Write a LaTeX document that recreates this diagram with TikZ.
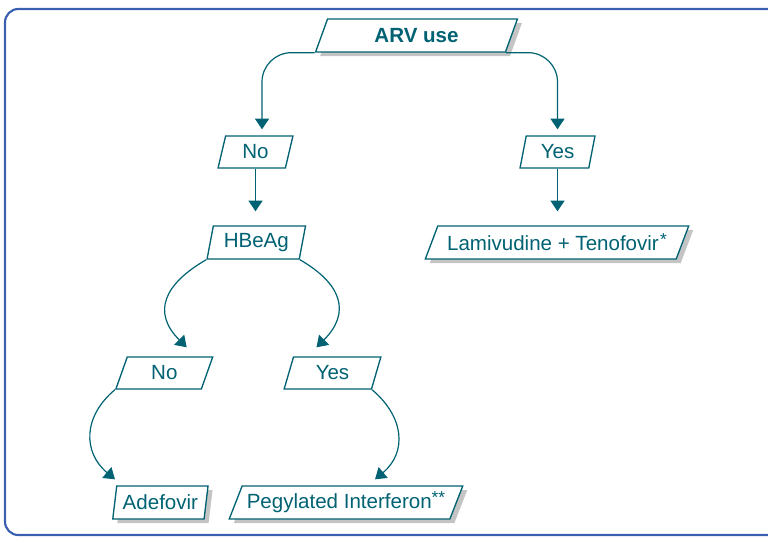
\documentclass[tikz,border=0pt]{standalone}
\usepackage{fontspec}
\setmainfont{Liberation Sans}
\usetikzlibrary{shapes.geometric,arrows.meta,shadows,calc}
\definecolor{teal1}{RGB}{0,98,114}
\definecolor{frameblue}{RGB}{60,96,176}
\definecolor{shadowgray}{RGB}{196,196,196}
\newcommand{\astr}[1]{\raisebox{0.25em}{\fontsize{13}{13}\selectfont #1}}
\begin{document}
\begin{tikzpicture}[x=0.75pt,y=0.75pt,
  pbox/.style={shape=trapezium, trapezium stretches=true, draw=teal1, line width=1pt,
    fill=white, text=teal1, inner sep=0pt, font=\fontsize{15.4}{18}\selectfont},
  shbox/.style={pbox, drop shadow={shadow xshift=3.4pt, shadow yshift=-3pt, fill=shadowgray, opacity=1}},
  conn/.style={draw=teal1, line width=0.9pt, -{Triangle[length=8pt,width=10.5pt]}}]
\useasboundingbox (0,0) rectangle (768,-536);
\draw[frameblue, line width=1.6pt, rounded corners=10] (5,-9) rectangle (790,-535);

\node[shbox, trapezium left angle=68.5, trapezium right angle=111.5, minimum width=152.25pt, minimum height=24.75pt, font=\fontsize{15.4}{18}\selectfont\bfseries] (arv) at (416.5,-35.5) {ARV use};
\node[pbox, trapezium left angle=77, trapezium right angle=103, minimum width=56.25pt, minimum height=24pt] (no1) at (255.5,-152) {No};
\node[pbox, trapezium left angle=77, trapezium right angle=103, minimum width=56.25pt, minimum height=24pt] (yes1) at (557.5,-152) {Yes};
\node[pbox, trapezium left angle=75.6, trapezium right angle=104.4, minimum width=74.25pt, minimum height=24.75pt] (hbeag) at (256.3,-242.5) {HBeAg};
\node[shbox, trapezium left angle=56.3, trapezium right angle=123.7, minimum width=198pt, minimum height=24.75pt] (lam) at (557,-242.5) {Lamivudine + Tenofovir\kern1pt\astr{*}};
\node[pbox, trapezium left angle=74.3, trapezium right angle=105.7, minimum width=72.75pt, minimum height=24pt] (no2) at (164.3,-373) {No};
\node[pbox, trapezium left angle=74.3, trapezium right angle=105.7, minimum width=72.75pt, minimum height=24pt] (yes2) at (332.5,-373) {Yes};
\node[shbox, trapezium left angle=77.2, trapezium right angle=102.8, minimum width=71.6pt, minimum height=24.75pt] (ade) at (160.4,-502.5) {Adefovir};
\node[shbox, trapezium left angle=60, trapezium right angle=120, minimum width=175.5pt, minimum height=24.75pt] (peg) at (346,-502.5) {Pegylated Interferon\astr{**}};

\coordinate (tno1) at ($(no1.north)+(6.5,6)$);
\coordinate (tyes1) at ($(yes1.north)+(0,6)$);
\coordinate (thbe) at ($(no1.south |- hbeag.north)+(0,14)$);
\coordinate (tlam) at ($(yes1.south |- lam.north)+(0,14)$);
\coordinate (tno2) at ($(no2.north)+(22.4,9)$);
\coordinate (tyes2) at ($(yes2.north)+(-16,9)$);
\coordinate (tade) at ($(ade.north)+(-45.4,6)$);
\coordinate (tpeg) at ($(peg.north)+(29,6)$);

\draw[conn, rounded corners=22] (arv.bottom left corner) -| (tno1);
\draw[conn, rounded corners=22] (arv.bottom right corner) -| (tyes1);
\draw[conn] (no1.south) -- (thbe);
\draw[conn] (yes1.south) -- (tlam);
\draw[conn] (hbeag.bottom left corner) to[out=210, in=135, looseness=1.4] (tno2);
\draw[conn] (hbeag.bottom right corner) to[out=-30, in=45, looseness=1.4] (tyes2);
\draw[conn] (no2.bottom left corner) to[out=220, in=140, looseness=1.2] (tade);
\draw[conn] (yes2.bottom right corner) to[out=-40, in=40, looseness=1.2] (tpeg);
\end{tikzpicture}
\end{document}
